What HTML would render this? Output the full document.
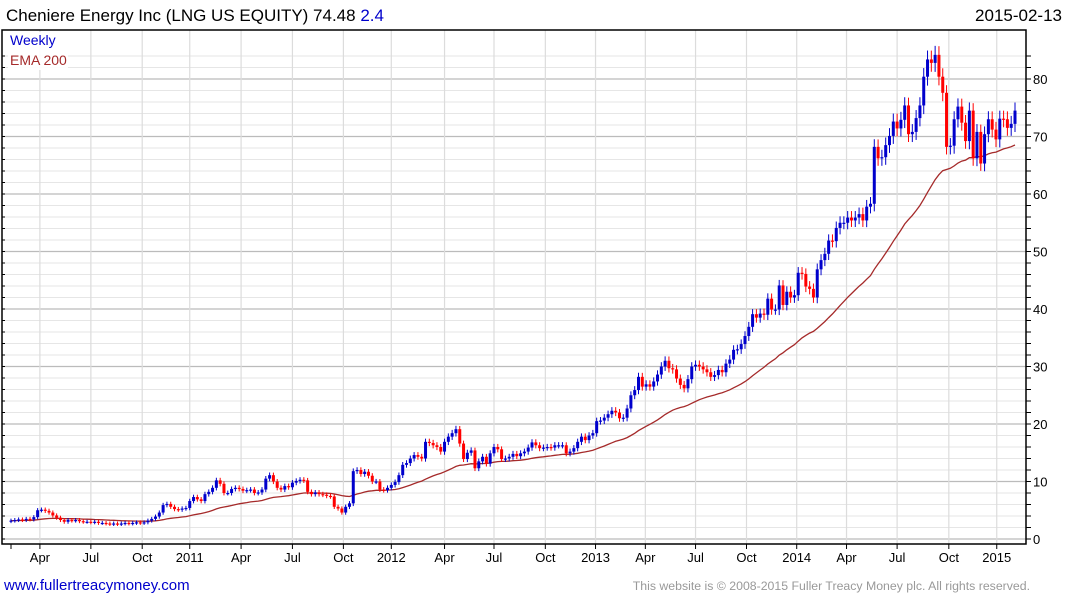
<!DOCTYPE html>
<html><head><meta charset="utf-8">
<style>
html,body{margin:0;padding:0;background:#fff;}
body{width:1075px;height:600px;overflow:hidden;font-family:"Liberation Sans",Arial,sans-serif;}
svg text{font-family:"Liberation Sans",Arial,sans-serif;}
</style></head>
<body>
<svg id="chart" width="1075" height="600" xmlns="http://www.w3.org/2000/svg">
<text x="6" y="21" font-size="17" fill="#000">Cheniere Energy Inc (LNG US EQUITY) 74.48 <tspan fill="#0000cc">2.4</tspan></text>
<text x="1062" y="21" font-size="17" fill="#000" text-anchor="end">2015-02-13</text>
<g id="grid"></g>
<g id="ema"></g>
<g id="candles"></g>
<rect x="2" y="30" width="1024" height="514" fill="none" stroke="#000" stroke-width="1.5"/>
<g id="axes"></g>
<rect x="8" y="32" width="60" height="38" fill="#fff" opacity="0.9"/>
<text x="10" y="45" font-size="14" fill="#0000cc">Weekly</text>
<text x="10" y="65" font-size="14" fill="#a52a2a">EMA 200</text>
<text x="4" y="590" font-size="15" fill="#0000cc">www.fullertreacymoney.com</text>
<text x="1030" y="590" font-size="12.3" fill="#999" text-anchor="end">This website is © 2008-2015 Fuller Treacy Money plc. All rights reserved.</text>
</svg>
<script>
const closes = [3.2,3.3,3.4,3.3,3.5,3.4,3.8,5.0,5.1,4.9,4.6,4.1,3.7,3.3,3.0,3.3,3.2,3.3,3.1,3.0,3.0,2.9,3.0,2.8,2.8,2.7,2.6,2.7,2.6,2.7,2.8,2.7,2.8,2.9,2.8,2.9,3.2,3.5,3.9,4.6,5.9,6.1,5.6,5.2,5.1,5.3,5.4,6.6,7.3,6.9,6.6,7.8,8.2,8.9,10.2,9.6,8.0,8.0,8.7,8.9,8.7,8.4,8.5,8.6,8.0,8.1,8.6,10.5,11.1,10.0,8.9,8.6,9.2,9.0,9.8,10.1,10.3,10.2,8.2,7.8,8.1,7.8,7.7,7.5,7.4,5.6,5.3,4.6,5.6,6.2,11.8,12.0,11.3,
11.7,11.0,10.0,10.0,8.6,8.5,8.9,9.4,9.9,11.1,12.9,13.2,14.0,14.6,14.3,14.0,16.9,16.7,16.3,16.0,15.2,16.9,17.8,18.4,19.1,16.6,13.9,15.0,15.4,12.3,13.5,14.3,13.1,14.9,16.0,15.6,13.9,14.0,14.3,14.8,14.4,14.9,15.2,15.9,16.8,16.3,15.8,15.9,16.0,15.9,16.3,16.3,16.3,14.9,15.2,15.8,16.9,17.8,17.2,18.0,18.4,20.5,20.6,21.1,21.7,22.3,22.0,21.0,21.1,22.7,25.0,25.9,28.2,26.5,26.9,26.5,27.4,28.6,30.0,31.0,29.7,29.5,27.9,26.8,26.2,27.8,30.0,30.3,30.0,
29.5,29.0,28.2,28.5,29.4,29.0,30.5,31.2,
32.9,33.0,33.9,35.3,36.9,39.1,38.5,39.2,39.0,41.8,39.9,39.9,44.1,40.7,43.0,42.0,42.4,46.3,46.1,43.9,43.5,42.0,46.9,48.5,49.6,51.9,51.8,54.1,55.0,55.0,55.9,55.4,55.9,56.5,55.4,57.8,58.3,68.2,66.2,66.4,68.5,70.1,72.6,71.4,72.9,75.4,70.4,70.8,73.2,75.4,80.4,83.4,82.8,84.2,80.4,77.6,68.2,68.4,73.0,75.2,72.4,69.2,74.5,66.2,70.8,65.3,70.4,73.0,71.2,69.5,73.1,73.0,71.5,72.2,74.5];
const yTicks = [0,10,20,30,40,50,60,70,80];
const xLabels = ["Apr","Jul","Oct","2011","Apr","Jul","Oct","2012","Apr","Jul","Oct","2013","Apr","Jul","Oct","2014","Apr","Jul","Oct","2015"];
const xLabelWeeks = [7.6,21,34.5,47,60.5,74,87.4,100,114,127,140.5,153.7,166.8,180,193.4,206.6,219.7,233,246.6,259.2];
const emaPeriod = 40;

const NS="http://www.w3.org/2000/svg";
const X0=11, X1=1015, Y0=539, PPU=5.75;
const n=closes.length;
const xs = i => X0 + i*(X1-X0)/(n-1);
const ys = v => Y0 - v*PPU;
function mk(tag, attrs, parent){const e=document.createElementNS(NS,tag);for(const k in attrs)e.setAttribute(k,attrs[k]);parent.appendChild(e);return e;}

const grid=document.getElementById('grid'), axes=document.getElementById('axes');
for(let v=0; v<=84; v+=2){
  const y=ys(v);
  const major = v%10===0;
  const l=mk('line',{x1:2,x2:1026,y1:y,y2:y,stroke:major?'#bbb':'#e6e6e6','stroke-width':major?1.3:1},grid);
  
  
  const t=mk('line',{x1:1026,x2:1031,y1:y,y2:y,stroke:'#000','stroke-width':1},axes);
  
  
  const t2=mk('line',{x1:2,x2:5,y1:y,y2:y,stroke:'#000','stroke-width':1},axes);
  
  
}
yTicks.forEach(v=>{
  const t=mk('text',{x:1033,y:ys(v)+5,'font-size':13,fill:'#000'},axes);
  t.textContent=v;
  
  
});
const firstTick=mk('line',{x1:11,x2:11,y1:544,y2:549,stroke:'#000'},axes);


xLabels.forEach((lab,k)=>{
  const x=xs(xLabelWeeks[k]);
  const g=mk('line',{x1:x,x2:x,y1:30,y2:544,stroke:'#dcdcdc','stroke-width':1.2},grid);
  
  
  const t=mk('line',{x1:x,x2:x,y1:544,y2:549,stroke:'#000'},axes);
  
  
  const tx=mk('text',{x:x,y:562,'font-size':13,fill:'#000','text-anchor':'middle'},axes);
  tx.textContent=lab;
  
  
});
const alpha=2/(emaPeriod+1);
let e=closes[0], pts=[];
closes.forEach((c,i)=>{ e = i===0?c:alpha*c+(1-alpha)*e; pts.push(xs(i).toFixed(1)+','+ys(e).toFixed(1)); });
const emaLine=mk('polyline',{points:pts.join(' '),fill:'none',stroke:'#a52a2a','stroke-width':1.3},document.getElementById('ema'));


const cg=document.getElementById('candles');
closes.forEach((c,i)=>{
  const o = i===0 ? c*0.97 : closes[i-1];
  const up = c>=o;
  const col = up ? '#0000cc' : '#ff0000';
  const hi = Math.max(o,c) + 0.3 + c*0.015;
  const lo = Math.min(o,c) - 0.3 - c*0.015;
  const x=xs(i);
  const w=mk('line',{x1:x,x2:x,y1:ys(hi),y2:ys(lo),stroke:col,'stroke-width':1},cg);
  
  
  const top=ys(Math.max(o,c)), h=Math.max(1.2, ys(Math.min(o,c))-top);
  const b=mk('rect',{x:x-1.5,y:top,width:3,height:h,fill:col},cg);
  
  
});
</script>
</body></html>
